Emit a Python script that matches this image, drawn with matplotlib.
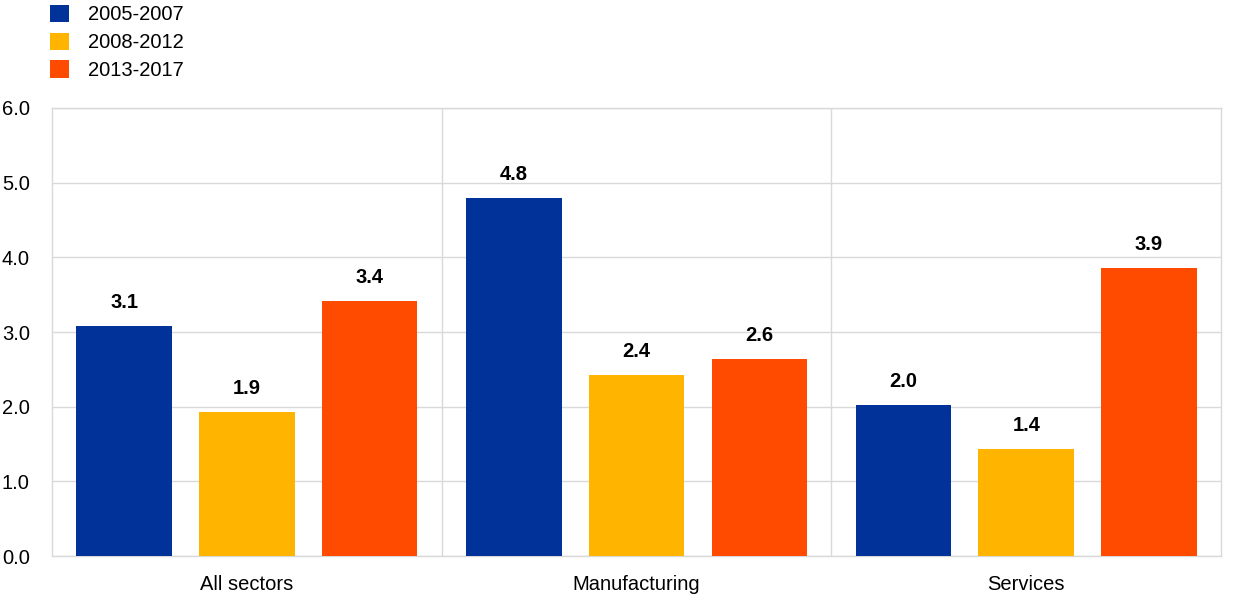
import numpy as np
import matplotlib.pyplot as plt
from matplotlib.patches import Patch

plt.rcParams['font.family'] = ['Liberation Sans', 'DejaVu Sans']

sectors = ['All sectors', 'Manufacturing', 'Services']
periods = ['2005-2007', '2008-2012', '2013-2017']
v_2005_2007 = [3.08, 4.79, 2.02]
v_2008_2012 = [1.93, 2.42, 1.43]
v_2013_2017 = [3.41, 2.64, 3.86]
colors = ['#003299', '#ffb400', '#ff4b00']

series = [v_2005_2007, v_2008_2012, v_2013_2017]

fig = plt.figure(figsize=(12.4, 6.02), dpi=100)
ax = fig.add_axes([0.042, 0.0764, 0.9427, 0.7442])

x = np.arange(len(sectors))
step = 0.315
width = 0.245
for i, (vals, c) in enumerate(zip(series, colors)):
    pos = x + (i - 1) * step
    ax.bar(pos, vals, width=width, color=c, zorder=3)
    for p, v in zip(pos, vals):
        ax.text(p, v + 0.19, f'{v:.1f}', ha='center', va='bottom',
                fontsize=14.5, fontweight='bold', zorder=4)

ax.set_xlim(-0.5, 2.5)
ax.set_ylim(0, 6)
ax.set_yticks(np.arange(0, 6.01, 1.0))
ax.set_yticklabels([f'{t:.1f}' for t in np.arange(0, 6.01, 1.0)])
ax.set_xticks(x)
ax.set_xticklabels(sectors)
ax.tick_params(axis='both', length=0, labelsize=14.5)
ax.tick_params(axis='x', pad=14)
ax.tick_params(axis='y', pad=16)

ax.yaxis.grid(True, color='#d9d9d9', linewidth=1, zorder=0)
for sep in [0.5, 1.5]:
    ax.axvline(sep, color='#d9d9d9', linewidth=1, zorder=0)
for s in ax.spines.values():
    s.set_color('#d9d9d9')
    s.set_linewidth(1)

handles = [Patch(facecolor=c, label=l) for c, l in zip(colors, periods)]
fig.legend(handles=handles, loc='upper left', bbox_to_anchor=(0.026, 1.022),
           frameon=False, fontsize=14.5, handlelength=0.95, handleheight=0.95,
           handletextpad=0.9, labelspacing=0.4)

fig.savefig('out.png', dpi=100)
